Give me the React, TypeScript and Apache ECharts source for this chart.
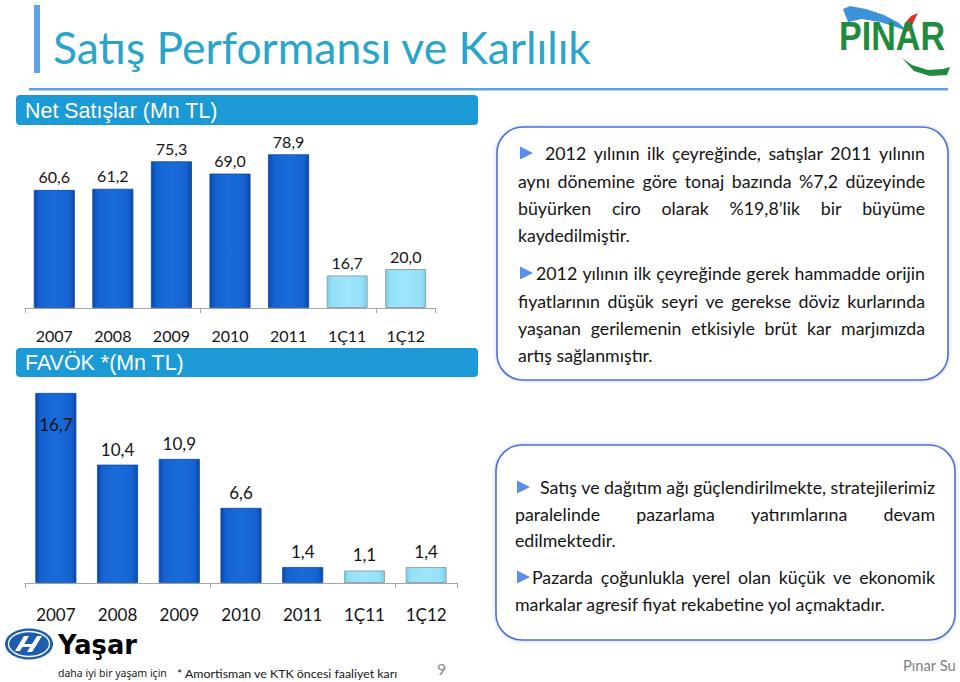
import React, { useEffect, useRef } from "react";
import * as echarts from "echarts";

// ---------- data ----------
const categories = ["2007", "2008", "2009", "2010", "2011", "1Ç11", "1Ç12"];
const netSales = [60.6, 61.2, 75.3, 69.0, 78.9, 16.7, 20.0];
const ebitda = [16.7, 10.4, 10.9, 6.6, 1.4, 1.1, 1.4];

const TITLE = "Satış Performansı ve Karlılık";
const HEAD_SALES = "Net Satışlar (Mn TL)";
const HEAD_EBITDA = "FAVÖK *(Mn TL)";
const BOX1 = [
  ["2012 yılının ilk çeyreğinde, satışlar 2011 yılının", "aynı dönemine göre tonaj bazında %7,2 düzeyinde", "büyürken ciro olarak %19,8’lik bir büyüme", "kaydedilmiştir."],
  ["2012 yılının ilk çeyreğinde gerek hammadde orijin", "fiyatlarının düşük seyri ve gerekse döviz kurlarında", "yaşanan gerilemenin etkisiyle brüt kar marjımızda", "artış sağlanmıştır."],
];
const BOX2 = [
  ["Satış ve dağıtım ağı güçlendirilmekte, stratejilerimiz", "paralelinde pazarlama yatırımlarına devam", "edilmektedir."],
  ["Pazarda çoğunlukla yerel olan küçük ve ekonomik", "markalar agresif fiyat rekabetine yol açmaktadır."],
];
const FOOTNOTE = "* Amortisman ve KTK öncesi faaliyet karı";
const SLOGAN = "daha iyi bir yaşam için";
const PAGE_NO = "9";
const SOURCE = "Pınar Su";

const BODY_FONT = "Lato";
const fmt = (v: number) => v.toFixed(1).replace(".", ",");

const canvas = document.createElement("canvas");
const ctx = canvas.getContext("2d") as CanvasRenderingContext2D;
function measure(text: string, size: number, family: string, weight = "normal") {
  ctx.font = `${weight} ${size}px ${family}`;
  return ctx.measureText(text).width;
}
function fit(text: string, width: number, family: string, weight = "normal") {
  return (100 * width) / measure(text, 100, family, weight);
}

function txt(text: string, x: number, y: number, size: number, fill: string, family = BODY_FONT, weight = "normal", align = "left") {
  return {
    type: "text",
    x,
    y,
    style: {
      text,
      fontSize: size,
      fontFamily: family,
      fontWeight: weight,
      fill,
      align,
      verticalAlign: "middle",
      textAlign: align,
      textVerticalAlign: "middle",
    },
  };
}

function lineEls(text: string, x0: number, x1: number, y: number, size: number, justify: boolean) {
  if (!justify) return [txt(text, x0, y, size, "#141414")];
  const words = text.split(" ");
  const ws = words.map((w) => measure(w, size, BODY_FONT));
  const total = ws.reduce((a, b) => a + b, 0);
  const gap = (x1 - x0 - total) / Math.max(1, words.length - 1);
  let x = x0;
  return words.map((w, i) => {
    const el = txt(w, x, y, size, "#141414");
    x += ws[i] + gap;
    return el;
  });
}

function arrow(x: number, y: number) {
  return {
    type: "polygon",
    shape: { points: [[x, y - 6.5], [x + 13, y], [x, y + 6.5]] },
    style: { fill: "#5B8EEA" },
  };
}

function paragraphEls(paras: string[][], x0: number, x1: number, firstX: number[], ys: number[][], size: number) {
  const out: any[] = [];
  paras.forEach((lines, p) => {
    out.push(arrow(x0 + 2, ys[p][0]));
    lines.forEach((ln, i) => {
      const last = i === lines.length - 1;
      out.push(...lineEls(ln, i === 0 ? firstX[p] : x0, x1, ys[p][i], size, !last));
    });
  });
  return out;
}

const darkStyle = {
  color: {
    type: "linear", x: 0, y: 0, x2: 1, y2: 0,
    colorStops: [
      { offset: 0, color: "#0A47A8" },
      { offset: 0.12, color: "#1462CF" },
      { offset: 0.5, color: "#1A6CDB" },
      { offset: 0.88, color: "#1462CF" },
      { offset: 1, color: "#0A47A8" },
    ],
  },
  borderColor: "#0D4AA3",
  borderWidth: 0.8,
};
const lightStyle = {
  color: {
    type: "linear", x: 0, y: 0, x2: 1, y2: 0,
    colorStops: [
      { offset: 0, color: "#7BCDEA" },
      { offset: 0.12, color: "#94E0F7" },
      { offset: 0.5, color: "#9EE6FB" },
      { offset: 0.88, color: "#94E0F7" },
      { offset: 1, color: "#7BCDEA" },
    ],
  },
  borderColor: "#8FA5AF",
  borderWidth: 1,
};

function barData(values: number[], insideFirst: boolean) {
  return values.map((v, i) => {
    const item: any = {
      value: v,
      itemStyle: categories[i].startsWith("1Ç") ? lightStyle : darkStyle,
    };
    if (insideFirst && i === 0) item.label = { position: "insideTop", distance: 23 };
    return item;
  });
}

function axisX(gridIndex: number, margin: number, size: number) {
  return {
    type: "category",
    gridIndex,
    data: categories,
    axisLine: { lineStyle: { color: "#A6A6A6", width: 1 } },
    axisTick: { show: true, interval: 2, length: 5, lineStyle: { color: "#A6A6A6" } },
    axisLabel: { margin, fontSize: size, color: "#141414", fontFamily: BODY_FONT, interval: 0 },
  };
}

export default function App() {
  const ref = useRef<HTMLDivElement>(null);
  useEffect(() => {
    if (!ref.current) return;
    const chart = echarts.init(ref.current, null, { renderer: "svg" });

    const bodySize = fit(BOX2[1][1], 371, BODY_FONT);
    const titleSize = fit(TITLE, 539, "Lato");
    const headSize = fit(HEAD_SALES, 193, "Liberation Sans");
    const pinarSize = fit("PINAR", 106, "Liberation Sans", "bold");
    const yasarSize = fit("Yaşar", 79, "DejaVu Sans", "bold");
    const sloganSize = fit(SLOGAN, 109, "Noto Sans");
    const footSize = fit(FOOTNOTE, 221, BODY_FONT);
    const srcSize = fit(SOURCE, 53, BODY_FONT);

    const pinarText: any = txt("PINAR", 839, 0, pinarSize, "#1E8B3F", "Liberation Sans", "bold");
    pinarText.y = 45;
    pinarText.scaleY = 1.2;
    pinarText.originY = 45;

    const graphic: any[] = [
      // title
      { type: "rect", shape: { x: 34, y: 5, width: 6, height: 68 }, style: { fill: "#5BA3E6" } },
      txt(TITLE, 53, 46, titleSize, "#29A4CA", "Lato"),
      { type: "rect", shape: { x: 29, y: 88, width: 919, height: 2.5 }, style: { fill: "#5BA3E6" } },
      // headers
      { type: "rect", shape: { x: 16, y: 95, width: 462, height: 30, r: 4 }, style: { fill: "#1C9AD6" } },
      txt(HEAD_SALES, 25, 111, headSize, "#FFFFFF", "Liberation Sans"),
      { type: "rect", shape: { x: 16, y: 348, width: 462, height: 29, r: 4 }, style: { fill: "#1C9AD6" } },
      txt(HEAD_EBITDA, 25, 363, headSize, "#FFFFFF", "Liberation Sans"),
      // boxes
      {
        type: "rect",
        shape: { x: 497, y: 127, width: 451, height: 253, r: 26 },
        style: { fill: "#FFFFFF", stroke: "#4F6FD3", lineWidth: 1.6, shadowBlur: 4, shadowColor: "rgba(90,130,220,0.35)" },
      },
      {
        type: "rect",
        shape: { x: 496, y: 445, width: 459, height: 195, r: 26 },
        style: { fill: "#FFFFFF", stroke: "#4F6FD3", lineWidth: 1.6, shadowBlur: 4, shadowColor: "rgba(90,130,220,0.35)" },
      },
      ...paragraphEls(BOX1, 518, 925, [545, 536], [[153, 181, 208, 235], [273, 301, 328, 355]], bodySize),
      ...paragraphEls(BOX2, 515, 935, [540, 532], [[487, 514, 540], [577, 604]], bodySize),
      // PINAR logo
      {
        type: "polygon",
        shape: { points: [[843, 9], [850, 6], [866, 9], [884, 15], [899, 23], [907, 31], [896, 27], [880, 22], [862, 19], [848, 22]] },
        style: { fill: "#3B93DA" },
      },
      {
        type: "polygon",
        shape: { points: [[903, 32], [905, 23], [911, 16], [918, 13], [914, 21], [910, 31]] },
        style: { fill: "#D8342C" },
      },
      pinarText,
      {
        type: "polygon",
        shape: { points: [[902, 58], [912, 65], [928, 70], [943, 69], [950, 67], [947, 75], [930, 76], [914, 71]] },
        style: { fill: "#1E8B3F" },
      },
      // Yasar logo
      { type: "ellipse", shape: { cx: 29, cy: 644, rx: 24, ry: 15.5 }, style: { fill: "#1E5DAE" } },
      { type: "ellipse", shape: { cx: 29, cy: 644, rx: 20.5, ry: 12.5 }, style: { fill: "#1E5DAE", stroke: "#FFFFFF", lineWidth: 1.3 } },
      { type: "polygon", shape: { points: [[15, 651], [20, 651], [29, 636], [24, 636]] }, style: { fill: "#FFFFFF" } },
      { type: "polygon", shape: { points: [[27, 652], [32, 652], [42, 636], [37, 636]] }, style: { fill: "#FFFFFF" } },
      { type: "polygon", shape: { points: [[21, 644], [37, 644], [35, 647], [19, 647]] }, style: { fill: "#FFFFFF" } },
      txt("Yaşar", 58, 645, yasarSize, "#000000", "DejaVu Sans", "bold"),
      // footer
      txt(SLOGAN, 58, 673, sloganSize, "#222222", "Noto Sans"),
      txt(FOOTNOTE, 177, 673, footSize, "#141414"),
      txt(PAGE_NO, 437, 668, 16, "#8A8A8A"),
      txt(SOURCE, 903, 665, srcSize, "#7F7F7F"),
    ];

    chart.setOption({
      animation: false,
      backgroundColor: "#FFFFFF",
      grid: [
        { left: 25, width: 410, top: 113.2, height: 194.8 },
        { left: 25, width: 432, top: 355.4, height: 227.6 },
      ],
      xAxis: [axisX(0, 19, 16), axisX(1, 23, 17)],
      yAxis: [
        { type: "value", gridIndex: 0, min: 0, max: 100, show: false },
        { type: "value", gridIndex: 1, min: 0, max: 20, show: false },
      ],
      series: [
        {
          type: "bar",
          xAxisIndex: 0,
          yAxisIndex: 0,
          barWidth: 41,
          data: barData(netSales, false),
          label: {
            show: true,
            position: "top",
            distance: 5,
            fontSize: 16,
            fontFamily: BODY_FONT,
            color: "#141414",
            formatter: (p: any) => fmt(p.value),
          },
        },
        {
          type: "bar",
          xAxisIndex: 1,
          yAxisIndex: 1,
          barWidth: 41,
          data: barData(ebitda, true),
          label: {
            show: true,
            position: "top",
            distance: 7,
            fontSize: 17,
            fontFamily: BODY_FONT,
            color: "#141414",
            formatter: (p: any) => fmt(p.value),
          },
        },
      ],
      graphic,
    });
    return () => chart.dispose();
  }, []);
  return <div ref={ref} style={{ position: "absolute", left: 0, top: 0, width: 960, height: 682 }} />;
}
